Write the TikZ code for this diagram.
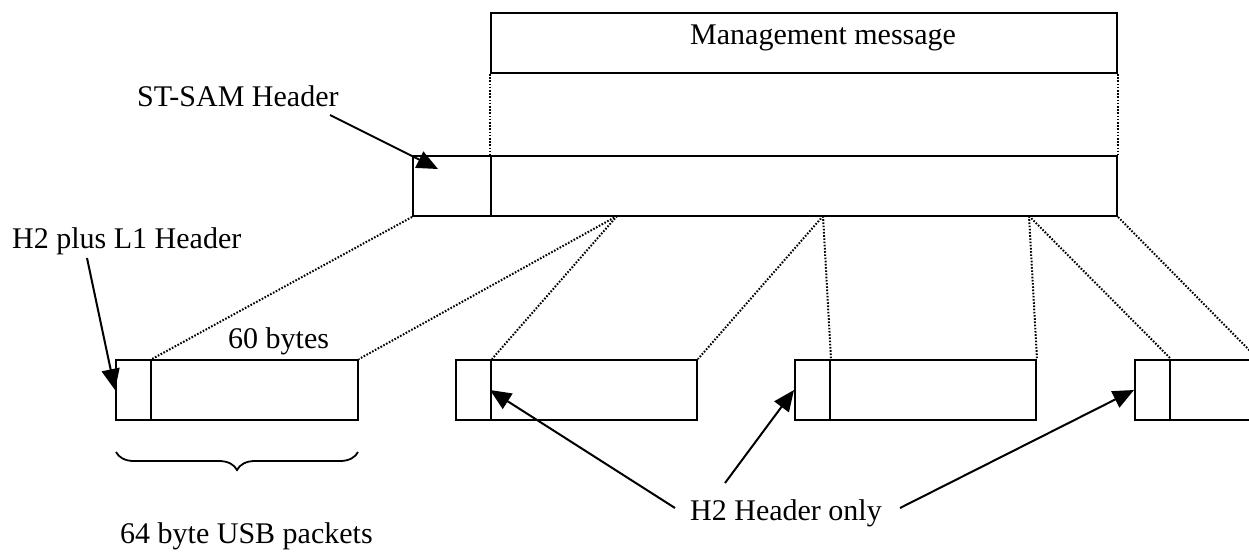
\documentclass[tikz,border=0pt]{standalone}
\usepackage{fontspec}
\setmainfont{Liberation Serif}
\usetikzlibrary{arrows.meta,decorations.pathreplacing}
\begin{document}
\begin{tikzpicture}[x=1pt,y=-1pt,
  box/.style={draw,line width=2pt,rectangle,inner sep=0pt,minimum height=60pt},
  lbl/.style={font=\fontsize{30}{36}\selectfont,inner sep=0pt,anchor=base west},
  dotl/.style={line width=2pt,dash pattern=on 1.6pt off 1.6pt},
  arr/.style={line width=2pt,-{Triangle[length=21pt,width=18pt]}},
  bracestyle/.style={line width=1.8pt,decorate,decoration={brace,amplitude=18pt,mirror}}
]
\useasboundingbox (0,0) rectangle (1249,551);
\clip (0,0) rectangle (1249,551);
\fill[white] (0,0) rectangle (1249,551);

% management message
\node[box,minimum width=626pt] (mm) at (804,43) {};
\node[lbl] (mmt) at (690,45) {Management message};

% ST-SAM frame
\node[box,minimum width=78pt] (sh) at (452,186) {};
\node[box,minimum width=626pt] (sp) at (804,186) {};

% USB packets
\node[box,minimum width=35pt] (h1) at (133.5,390) {};
\node[box,minimum width=207pt] (p1) at (254.5,390) {};
\node[box,minimum width=35pt] (h2) at (473.5,390) {};
\node[box,minimum width=206pt] (p2) at (594,390) {};
\node[box,minimum width=35pt] (h3) at (812.5,390) {};
\node[box,minimum width=206pt] (p3) at (933,390) {};
\node[box,minimum width=35pt] (h4) at (1152.5,390) {};
\node[box,minimum width=207pt] (p4) at (1273.5,390) {};

% split points
\coordinate (c1) at (617,216);
\coordinate (c2) at (823,216);
\coordinate (c3) at (1029,216);
\coordinate (cend) at (1259,360);

% dotted projection lines
\draw[dotl] (mm.south west) -- (sp.north west);
\draw[dotl] (mm.south east) -- (sp.north east);
\draw[dotl] (sh.south west) -- (h1.north east);
\draw[dotl] (c1) -- (p1.north east);
\draw[dotl] (c1) -- (h2.north east);
\draw[dotl] (c2) -- (p2.north east);
\draw[dotl] (c2) -- (h3.north east);
\draw[dotl] (c3) -- (p3.north east);
\draw[dotl] (c3) -- (h4.north east);
\draw[dotl] (sp.south east) -- (cend);

% labels
\node[lbl] (st) at (137,106) {ST-SAM Header};
\node[lbl] (h2l1) at (12,248) {H2 plus L1 Header};
\node[lbl] (sixty) at (228,348) {60 bytes};
\node[lbl] (usb) at (120,543) {64 byte USB packets};
\node[lbl] (h2only) at (690,520) {H2 Header only};

% arrow start / end points
\coordinate (a1s) at (330,115);
\coordinate (a1e) at (438,169);
\coordinate (a2s) at (87,258);
\coordinate (a3s) at (675,508);
\coordinate (a4s) at (725,483);
\coordinate (a5s) at (900,508);

\draw[arr] (a1s) -- (a1e);
\draw[arr] (a2s) -- (h1.west);
\draw[arr] (a3s) -- (p2.west);
\draw[arr] (a4s) -- (h3.west);
\draw[arr] (a5s) -- (h4.west);

% brace
\coordinate (bl) at (116,452);
\coordinate (br) at (358,452);
\draw[bracestyle] (bl) -- (br);
\end{tikzpicture}
\end{document}
